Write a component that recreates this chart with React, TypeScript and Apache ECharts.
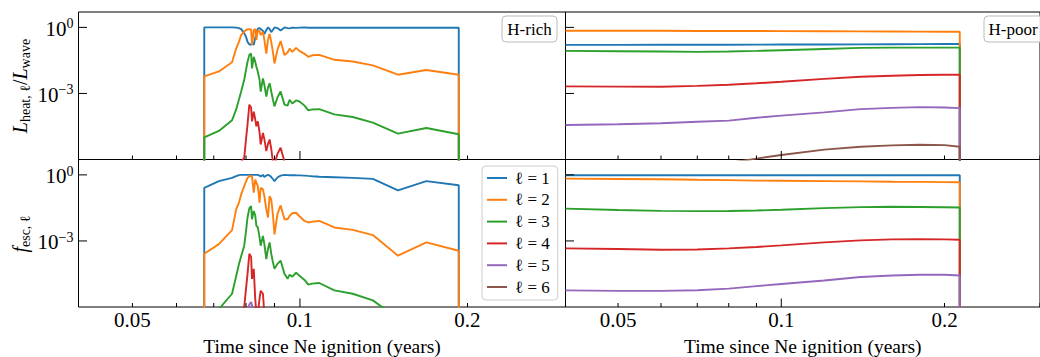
import React, { useEffect, useRef } from 'react';
import * as echarts from 'echarts';

const FONT = "'Liberation Serif', 'DejaVu Serif', serif";
const COLORS = ['#1f77b4', '#ff7f0e', '#2ca02c', '#d62728', '#9467bd', '#8c564b'];
const NAMES = ['ℓ = 1', 'ℓ = 2', 'ℓ = 3', 'ℓ = 4', 'ℓ = 5', 'ℓ = 6'];
const X_TITLE = 'Time since Ne ignition (years)';

const X_MIN = 0.04;
const X_MAX = 0.3;
const Y_MIN = 1e-6;
const Y_MAX = 5;
const FLOOR = 1e-12; // zero, clipped below the axis

const X_MAJOR = [0.1];
const X_MINOR = [0.04, 0.05, 0.06, 0.07, 0.08, 0.09, 0.2, 0.3];
const X_LABELS = [0.05, 0.1, 0.2];
const Y_MAJOR = [1, 0.001];

// ---------- H-rich model ----------
const H_RICH_T = [0.0673, 0.0715, 0.0755, 0.0768, 0.0777, 0.0784, 0.0794, 0.0800, 0.0805, 0.0811,
  0.0817, 0.0820, 0.0826, 0.0831, 0.0835, 0.0840, 0.0846, 0.0850, 0.0858, 0.0863,
  0.0870, 0.0876, 0.0882, 0.0888, 0.0894, 0.0900, 0.0911, 0.0923, 0.0938, 0.0950,
  0.0958, 0.0969, 0.0984, 0.0998, 0.1019, 0.1035, 0.1052, 0.1083, 0.1153, 0.1244,
  0.1352, 0.1500, 0.1687, 0.1929];

const HR_HEAT_L1 = [1.0, 1.0, 1.0, 0.98, 0.93, 0.84, 0.55, 0.37, 0.22, 0.17,
  0.16, 0.20, 0.16, 0.33, 0.61, 0.87, 0.93, 0.84, 0.68, 0.50,
  0.76, 1.0, 0.84, 0.61, 0.76, 1.0, 0.93, 0.72, 1.0, 0.93,
  0.90, 0.98, 0.95, 0.98, 1.0, 0.97, 0.97, 0.97, 0.97, 0.97,
  0.97, 0.96, 0.96, 0.96];
const HR_HEAT_L2 = [0.006, 0.010, 0.026, 0.109, 0.225, 0.45, 0.65, 0.76, 0.80, 0.84,
  0.80, 0.16, 0.76, 0.84, 0.27, 0.76, 0.68, 0.45, 0.61, 0.27,
  0.065, 0.27, 0.51, 0.22, 0.077, 0.023, 0.095, 0.24, 0.055, 0.072,
  0.108, 0.077, 0.117, 0.086, 0.063, 0.046, 0.054, 0.0565, 0.0337, 0.0282,
  0.0187, 0.0071, 0.0116, 0.0071];
const HR_HEAT_L3 = [1.0e-5, 1.98e-5, 6.0e-5, 1.88e-4, 5.3e-4, 1.22e-3, 4.2e-3, 0.0119, 0.0274, 0.0565,
  0.065, 0.0137, 0.046, 0.0274, 0.0163, 0.0097, 0.0042, 1.22e-3, 4.8e-3, 2.5e-3,
  7.2e-4, 1.85e-3, 2.9e-3, 1.22e-3, 5.3e-4, 2.6e-4, 6.5e-4, 1.22e-3, 3.1e-4, 2.8e-4,
  5.1e-4, 3.5e-4, 4.8e-4, 4.3e-4, 2.8e-4, 1.7e-4, 1.88e-4, 1.95e-4, 1.12e-4, 8.5e-5,
  4.7e-5, 1.5e-5, 2.7e-5, 1.4e-5];
const HR_HEAT_L4 = [null, null, null, null, null, 8e-7, 1.2e-6, 8.4e-6, 4.0e-5, 3.1e-4,
  2.3e-4, 5.4e-5, 1.5e-4, 6.7e-5, 3.2e-5, 5.4e-5, 1.7e-5, 4.8e-6, 1.6e-5, 8.4e-6,
  2.4e-6, 5e-6, 8.1e-6, 3e-6, 8e-7, 6e-7, 1.8e-6, 3.4e-6, 8e-7, 4e-7,
  null, null, null, null, null, null, null, null, null, null,
  null, null, null, null];

const HR_ESC_L1 = [0.26, 0.52, 0.73, 0.88, 0.98, 1.0, 1.0, 1.0, 1.0, 1.0,
  1.0, 1.0, 1.0, 1.0, 1.0, 1.0, 0.93, 0.84, 1.0, 0.80,
  0.93, 1.0, 0.93, 0.80, 0.65, 0.52, 0.76, 0.93, 1.0, 0.98,
  0.96, 0.98, 0.96, 0.95, 0.93, 0.90, 0.87, 0.82, 0.78, 0.73,
  0.66, 0.20, 0.52, 0.34];
const HR_ESC_L2 = [2.6e-4, 7.2e-4, 3.1e-3, 0.027, 0.055, 0.13, 0.31, 0.50, 0.73, 0.865,
  0.90, 0.865, 0.155, 0.61, 0.45, 0.31, 0.055, 0.26, 0.22, 0.109,
  0.027, 0.0116, 0.109, 0.077, 0.0163, 0.0020, 0.0163, 0.041, 0.0097, 0.0097,
  0.0137, 0.018, 0.019, 0.0132, 0.0081, 0.0069, 0.0075, 0.0081, 0.0041, 0.0032,
  0.00185, 2.15e-4, 8.6e-4, 3.6e-4];
const HR_ESC_L3 = [null, 8e-7, 4.0e-6, 2.5e-5, 9.0e-5, 2.0e-4, 6.1e-4, 2.8e-3, 0.0116, 0.030,
  0.0385, 0.0097, 0.023, 0.0147, 0.0048, 0.0041, 1.5e-3, 6.1e-4, 1.7e-3, 7.2e-4,
  1.5e-4, 4.3e-4, 8.6e-4, 2.6e-4, 1.1e-4, 5.4e-5, 9.1e-5, 1.28e-4, 3.2e-5, 1.9e-5,
  2.9e-5, 2.4e-5, 3.6e-5, 2.6e-5, 1.7e-5, 1.03e-5, 1.15e-5, 1.23e-5, 5.7e-6, 4.0e-6,
  2.0e-6, 3e-7, null, null];
const HR_ESC_L4 = [null, null, null, null, null, 5e-7, 1e-6, 6.8e-6, 3.2e-5, 2.6e-4,
  1.9e-4, 1.9e-5, 5.4e-5, 2.4e-6, 5e-7, 5e-7, 2.4e-6, 5.5e-6, 4e-6, 5e-7,
  null, null, null, null, null, null, null, null, null, null,
  null, null, null, null, null, null, null, null, null, null,
  null, null, null, null];
const HR_ESC_L5 = [null, null, null, null, null, null, null, null, 5e-7, 1.3e-6,
  1.7e-6, 1.2e-6, 5e-7, null, null, null, null, null, null, null,
  null, null, null, null, null, null, null, null, null, null,
  null, null, null, null, null, null, null, null, null, null,
  null, null, null, null];

// ---------- H-poor model ----------
const H_POOR_T = [0.04, 0.05, 0.06, 0.07, 0.08, 0.09, 0.1, 0.12, 0.14, 0.16, 0.18, 0.2, 0.2134];

const HP_HEAT_L1 = [0.160, 0.161, 0.162, 0.163, 0.164, 0.165, 0.166, 0.168, 0.170, 0.172, 0.174, 0.176, 0.177];
const HP_HEAT_L2 = [0.70, 0.70, 0.70, 0.69, 0.69, 0.69, 0.68, 0.67, 0.66, 0.65, 0.64, 0.63, 0.63];
const HP_HEAT_L3 = [0.0856, 0.083, 0.080, 0.077, 0.080, 0.0856, 0.092, 0.105, 0.117, 0.121, 0.121, 0.121, 0.121];
const HP_HEAT_L4 = [0.0021, 0.00205, 0.0020, 0.0022, 0.0025, 0.0029, 0.0034, 0.0046, 0.0057, 0.0064, 0.0069, 0.0071, 0.0071];
const HP_HEAT_L5 = [3.7e-5, 4.0e-5, 4.4e-5, 5.2e-5, 5.8e-5, 7.9e-5, 9.8e-5, 1.38e-4, 1.95e-4, 2.2e-4, 2.4e-4, 2.3e-4, 2.15e-4];
const HP_HEAT_L6 = [null, null, null, 4.5e-7, 7e-7, 1.1e-6, 1.6e-6, 2.8e-6, 3.8e-6, 4.4e-6, 4.7e-6, 4.5e-6, 3.8e-6];

const HP_ESC_L1 = [0.96, 0.96, 0.96, 0.96, 0.96, 0.96, 0.96, 0.96, 0.96, 0.96, 0.96, 0.96, 0.96];
const HP_ESC_L2 = [0.68, 0.65, 0.63, 0.60, 0.58, 0.55, 0.54, 0.52, 0.505, 0.49, 0.48, 0.47, 0.46];
const HP_ESC_L3 = [0.0294, 0.0256, 0.0232, 0.0225, 0.0230, 0.0240, 0.0260, 0.031, 0.0345, 0.0355, 0.035, 0.034, 0.0328];
const HP_ESC_L4 = [4.6e-4, 4.3e-4, 4.0e-4, 4.1e-4, 4.6e-4, 5.3e-4, 6.3e-4, 8.6e-4, 1.06e-3, 1.18e-3, 1.2e-3, 1.18e-3, 1.14e-3];
const HP_ESC_L5 = [5.7e-6, 5.4e-6, 5.4e-6, 5.8e-6, 6.8e-6, 8.9e-6, 1.11e-5, 1.6e-5, 2.3e-5, 2.7e-5, 2.9e-5, 2.9e-5, 2.7e-5];

const PANELS = [
  { grid: 0, t: H_RICH_T, startDrop: true, lines: [HR_HEAT_L1, HR_HEAT_L2, HR_HEAT_L3, HR_HEAT_L4, null, null] },
  { grid: 1, t: H_RICH_T, startDrop: true, lines: [HR_ESC_L1, HR_ESC_L2, HR_ESC_L3, HR_ESC_L4, HR_ESC_L5, null] },
  { grid: 2, t: H_POOR_T, startDrop: false, lines: [HP_HEAT_L1, HP_HEAT_L2, HP_HEAT_L3, HP_HEAT_L4, HP_HEAT_L5, HP_HEAT_L6] },
  { grid: 3, t: H_POOR_T, startDrop: false, lines: [HP_ESC_L1, HP_ESC_L2, HP_ESC_L3, HP_ESC_L4, HP_ESC_L5, null] },
];

const GRID_BOXES = [
  { left: 78.5, top: 12, width: 487, height: 147.5 },
  { left: 78.5, top: 159.5, width: 487, height: 147.5 },
  { left: 565.5, top: 12, width: 487, height: 147.5 },
  { left: 565.5, top: 159.5, width: 487, height: 147.5 },
];

function lineData(ts: number[], vs: (number | null)[], startDrop: boolean) {
  const pts: number[][] = [];
  if (startDrop) pts.push([ts[0], FLOOR]);
  ts.forEach((t, i) => {
    const v = vs[i];
    if (v != null) pts.push([t, v]);
  });
  pts.push([ts[ts.length - 1], FLOOR]);
  return pts;
}

function expLabel(v: number) {
  const e = Math.round(Math.log10(v));
  return e < 0 ? '\u2212' + Math.abs(e) : String(e);
}

function buildOption() {
  const series: any[] = [];
  PANELS.forEach((p) => {
    p.lines.forEach((vals, k) => {
      if (!vals) return;
      series.push({
        type: 'line',
        name: NAMES[k],
        xAxisIndex: p.grid,
        yAxisIndex: p.grid,
        data: lineData(p.t, vals as (number | null)[], p.startDrop),
        showSymbol: false,
        symbol: 'none',
        color: COLORS[k],
        lineStyle: { color: COLORS[k], width: 1.9 },
        clip: true,
        z: 2,
      });
    });
  });

  [0, 1, 2, 3].forEach((g) => {
    // x ticks (inward, bottom)
    series.push({
      type: 'custom',
      xAxisIndex: g,
      yAxisIndex: g,
      silent: true,
      z: 6,
      data: [...X_MAJOR.map((t) => [t, Y_MIN, 1]), ...X_MINOR.map((t) => [t, Y_MIN, 0])],
      renderItem: (params: any, api: any) => {
        const pt = api.coord([api.value(0), api.value(1)]);
        const len = api.value(2) ? 8.5 : 4;
        return {
          type: 'line',
          shape: { x1: pt[0], y1: pt[1], x2: pt[0], y2: pt[1] - len },
          style: { stroke: '#000', lineWidth: 1 },
        };
      },
    });
    // y ticks (inward, left)
    series.push({
      type: 'custom',
      xAxisIndex: g,
      yAxisIndex: g,
      silent: true,
      z: 6,
      data: Y_MAJOR.map((v) => [X_MIN, v]),
      renderItem: (params: any, api: any) => {
        const pt = api.coord([api.value(0), api.value(1)]);
        return {
          type: 'line',
          shape: { x1: pt[0], y1: pt[1], x2: pt[0] + 8.5, y2: pt[1] },
          style: { stroke: '#000', lineWidth: 1 },
        };
      },
    });
    if (g === 1 || g === 3) {
      series.push({
        type: 'custom',
        xAxisIndex: g,
        yAxisIndex: g,
        silent: true,
        z: 6,
        data: X_LABELS.map((t) => [t, Y_MIN]),
        renderItem: (params: any, api: any) => {
          const t = api.value(0);
          const pt = api.coord([t, api.value(1)]);
          return {
            type: 'text',
            x: pt[0],
            y: pt[1] + 12.5,
            style: {
              text: String(t),
              fill: '#000',
              fontSize: 21,
              fontFamily: FONT,
              align: 'center',
              verticalAlign: 'middle',
              textAlign: 'center',
              textVerticalAlign: 'middle',
            },
          };
        },
      });
    }
    if (g === 0 || g === 1) {
      series.push({
        type: 'custom',
        xAxisIndex: g,
        yAxisIndex: g,
        silent: true,
        z: 6,
        data: Y_MAJOR.map((v) => [X_MIN, v]),
        renderItem: (params: any, api: any) => {
          const v = api.value(1);
          const pt = api.coord([api.value(0), v]);
          return {
            type: 'text',
            x: pt[0] - 5,
            y: pt[1] + 1.5,
            style: {
              text: '{b|10}{s|' + expLabel(v) + '}',
              fill: '#000',
              fontSize: 21,
              fontFamily: FONT,
              align: 'right',
              verticalAlign: 'middle',
              textAlign: 'right',
              textVerticalAlign: 'middle',
              rich: {
                b: { fontSize: 21, fontFamily: FONT, fill: '#000', lineHeight: 24, verticalAlign: 'middle' },
                s: { fontSize: 14, fontFamily: FONT, fill: '#000', lineHeight: 14, verticalAlign: 'top' },
              },
            },
          };
        },
      });
    }
  });

  const richLabel = {
    i: { fontSize: 20, fontStyle: 'italic', fontFamily: FONT, fill: '#000', lineHeight: 24, verticalAlign: 'middle' },
    n: { fontSize: 20, fontFamily: FONT, fill: '#000', lineHeight: 24, verticalAlign: 'middle' },
    s: { fontSize: 14, fontFamily: FONT, fill: '#000', lineHeight: 14, verticalAlign: 'bottom' },
  };

  return {
    animation: false,
    backgroundColor: '#fff',
    grid: GRID_BOXES.map((b) => ({ ...b, show: true, borderColor: '#000', borderWidth: 1, backgroundColor: 'transparent' })),
    xAxis: [0, 1, 2, 3].map((i) => ({
      type: 'log',
      logBase: 10,
      gridIndex: i,
      min: X_MIN,
      max: X_MAX,
      axisLine: { show: false },
      axisTick: { show: false },
      axisLabel: { show: false },
      splitLine: { show: false },
      ...(i === 1 || i === 3
        ? {
            name: X_TITLE,
            nameLocation: 'middle',
            nameGap: 29,
            nameTextStyle: { fontFamily: FONT, fontSize: 19.5, color: '#000' },
          }
        : {}),
    })),
    yAxis: [0, 1, 2, 3].map((i) => ({
      type: 'log',
      logBase: 10,
      gridIndex: i,
      min: Y_MIN,
      max: Y_MAX,
      axisLine: { show: false },
      axisTick: { show: false },
      axisLabel: { show: false },
      splitLine: { show: false },
    })),
    legend: {
      data: NAMES,
      orient: 'vertical',
      left: 482,
      top: 166,
      icon: 'rect',
      itemWidth: 20,
      itemHeight: 2,
      itemGap: 1.8,
      padding: [2, 8, 3, 5],
      backgroundColor: 'rgba(255,255,255,0.85)',
      borderColor: '#cccccc',
      borderWidth: 1,
      borderRadius: 4,
      textStyle: { fontFamily: FONT, fontSize: 17, color: '#000', lineHeight: 20, padding: [0, 0, 0, 3] },
      selectedMode: false,
    },
    graphic: [
      {
        type: 'text',
        x: 20,
        y: 86,
        rotation: Math.PI / 2,
        style: {
          text: '{i|L}{s|heat, ℓ}{n|/}{i|L}{s|wave}',
          rich: richLabel,
          fill: '#000',
          align: 'center',
          verticalAlign: 'middle',
          textAlign: 'center',
          textVerticalAlign: 'middle',
        },
      },
      {
        type: 'text',
        x: 20,
        y: 234,
        rotation: Math.PI / 2,
        style: {
          text: '{i|f}{s|esc, ℓ}',
          rich: richLabel,
          fill: '#000',
          align: 'center',
          verticalAlign: 'middle',
          textAlign: 'center',
          textVerticalAlign: 'middle',
        },
      },
      {
        type: 'rect',
        shape: { x: 502, y: 16, width: 55, height: 26, r: 4 },
        style: { fill: 'rgba(255,255,255,0.85)', stroke: '#bbbbbb', lineWidth: 1 },
        z: 10,
      },
      {
        type: 'text',
        x: 529.5,
        y: 29,
        z: 11,
        style: {
          text: 'H-rich',
          fill: '#000',
          fontSize: 17,
          fontFamily: FONT,
          align: 'center',
          verticalAlign: 'middle',
          textAlign: 'center',
          textVerticalAlign: 'middle',
        },
      },
      {
        type: 'rect',
        shape: { x: 984, y: 16, width: 60, height: 26, r: 4 },
        style: { fill: 'rgba(255,255,255,0.85)', stroke: '#bbbbbb', lineWidth: 1 },
        z: 10,
      },
      {
        type: 'text',
        x: 988.5,
        y: 29,
        z: 11,
        style: {
          text: 'H-poor',
          fill: '#000',
          fontSize: 17,
          fontFamily: FONT,
          align: 'left',
          verticalAlign: 'middle',
          textAlign: 'left',
          textVerticalAlign: 'middle',
        },
      },
    ],
    series,
  };
}

export default function App() {
  const ref = useRef<HTMLDivElement>(null);
  useEffect(() => {
    if (!ref.current) return;
    const chart = echarts.init(ref.current, undefined, { renderer: 'svg' });
    chart.setOption(buildOption() as any);
    return () => chart.dispose();
  }, []);
  return (
    <div
      ref={ref}
      style={{ position: 'fixed', left: 0, top: 0, width: 1040, height: 357, background: '#fff' }}
    />
  );
}
